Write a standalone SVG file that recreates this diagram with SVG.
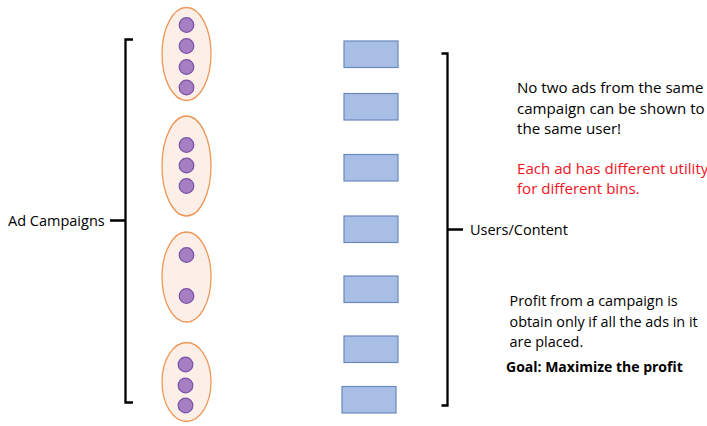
<svg xmlns="http://www.w3.org/2000/svg" width="707" height="426" viewBox="0 0 707 426">
  <style>
    .camp { fill: #FBEFE7; stroke: #EE9758; stroke-width: 1.3; }
    .ad { fill: #A67FC3; stroke: #7A4FAA; stroke-width: 1.2; }
    .bin { fill: #A8BEE4; stroke: #6A89BE; stroke-width: 1.2; }
    .brace { fill: none; stroke: #000; stroke-width: 2.3; }
    .t { font-family: "Open Sans", "Liberation Sans", sans-serif; font-size: 14.5px; fill: #000; }
    .big { font-size: 15.1px; }
    .mid { font-size: 14.4px; }
    .red { fill: #F0141E; }
    .bold { font-weight: bold; font-size: 14px; }
  </style>

  <!-- campaigns with their ads -->
  <g id="campaign1">
    <ellipse class="camp" cx="186.5" cy="54" rx="24.5" ry="46.5"/>
    <circle class="ad" cx="186.5" cy="25" r="7.3"/>
    <circle class="ad" cx="186.5" cy="46" r="7.3"/>
    <circle class="ad" cx="186.5" cy="67" r="7.3"/>
    <circle class="ad" cx="186.5" cy="87.5" r="7.3"/>
  </g>
  <g id="campaign2">
    <ellipse class="camp" cx="186.5" cy="166" rx="24.5" ry="50"/>
    <circle class="ad" cx="186.5" cy="145" r="7.3"/>
    <circle class="ad" cx="186.5" cy="165.5" r="7.3"/>
    <circle class="ad" cx="186.5" cy="186" r="7.3"/>
  </g>
  <g id="campaign3">
    <ellipse class="camp" cx="186.5" cy="277" rx="24.5" ry="45"/>
    <circle class="ad" cx="186.5" cy="255" r="7.3"/>
    <circle class="ad" cx="186.5" cy="296" r="7.3"/>
  </g>
  <g id="campaign4">
    <ellipse class="camp" cx="186.5" cy="382" rx="24.5" ry="39.5"/>
    <circle class="ad" cx="185.5" cy="364.5" r="7.3"/>
    <circle class="ad" cx="185.5" cy="385.5" r="7.3"/>
    <circle class="ad" cx="185.5" cy="405.5" r="7.3"/>
  </g>

  <!-- bins (users / content) -->
  <g id="bin1"><rect class="bin" x="344" y="41" width="54" height="26.5"/></g>
  <g id="bin2"><rect class="bin" x="344" y="93.5" width="54" height="26.5"/></g>
  <g id="bin3"><rect class="bin" x="344" y="154.5" width="54" height="26.5"/></g>
  <g id="bin4"><rect class="bin" x="344" y="216" width="54" height="26.5"/></g>
  <g id="bin5"><rect class="bin" x="344" y="276" width="54" height="26.5"/></g>
  <g id="bin6"><rect class="bin" x="344" y="336" width="54" height="26.5"/></g>
  <g id="bin7"><rect class="bin" x="342" y="386.5" width="54" height="26.5"/></g>

  <!-- braces -->
  <g id="connectors">
    <path class="brace" d="M133,39.5 H125.5 V402.5 H133 M125.5,220.5 H110"/>
    <path class="brace" d="M441.5,53.5 H447.5 V405.5 H441.5 M447.5,229.5 H463"/>
  </g>

  <!-- labels -->
  <g id="label-campaigns">
    <text class="t" x="8" y="226">Ad Campaigns</text>
  </g>
  <g id="label-users">
    <text class="t" x="470" y="235">Users/Content</text>
  </g>
  <g id="note-constraint">
    <text class="t big" x="517" y="93">No two ads from the same</text>
    <text class="t big" x="517" y="113.5">campaign can be shown to</text>
    <text class="t big" x="517" y="134">the same user!</text>
  </g>
  <g id="note-utility">
    <text class="t big red" x="517" y="173.5">Each ad has different utility</text>
    <text class="t big red" x="517" y="194">for different bins.</text>
  </g>
  <g id="note-profit">
    <text class="t mid" x="509.5" y="306">Profit from a campaign is</text>
    <text class="t mid" x="509.5" y="326.5">obtain only if all the ads in it</text>
    <text class="t mid" x="509.5" y="347">are placed.</text>
    <text class="t bold" x="506" y="372">Goal: Maximize the profit</text>
  </g>
</svg>
